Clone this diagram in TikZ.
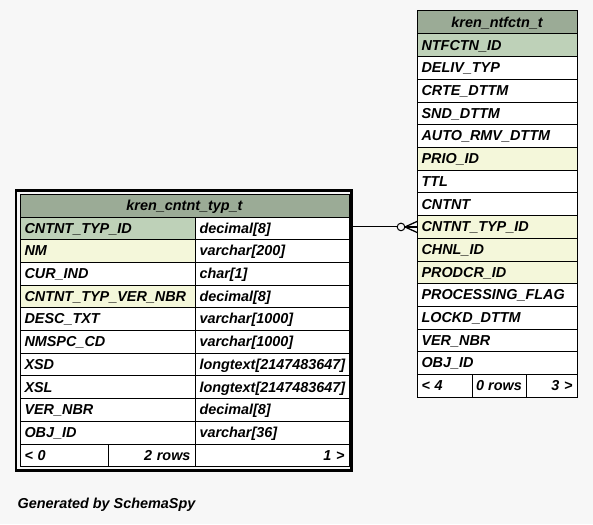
\documentclass[tikz,border=0pt]{standalone}
\usepackage{fontspec}
\setmainfont{Liberation Sans}
\usetikzlibrary{calc}
\definecolor{bg}{HTML}{F7F7F7}
\definecolor{headc}{HTML}{9BAB96}
\definecolor{pkc}{HTML}{BED1B8}
\definecolor{idxc}{HTML}{F4F7DA}
\newcommand\tabfont{\fontsize{14.4pt}{16pt}\selectfont\bfseries\itshape}
\tikzset{
  cellbox/.style={draw=black, line width=1pt, anchor=north west, outer sep=0pt,
    inner xsep=4.5pt, inner ysep=0pt, minimum height=22.7pt,
    text height=11.5pt, text depth=2pt, font=\tabfont},
  lcell/.style={cellbox, align=left, text width=#1pt-9pt, minimum width=#1pt},
  rcell/.style={cellbox, align=right, text width=#1pt-9pt, minimum width=#1pt},
  ccell/.style={cellbox, align=center, text width=#1pt-9pt, minimum width=#1pt},
  conn/.style={draw=black, line width=1pt},
}
\begin{document}
\begin{tikzpicture}[x=1pt,y=-1pt]
\fill[bg] (0,0) rectangle (593,524);
\useasboundingbox (0,0) rectangle (593,524);

% ---------- left table: kren_cntnt_typ_t ----------
\node[draw=black, line width=2.5pt, anchor=north west, outer sep=0pt,
      minimum width=335.5pt, minimum height=280pt, inner sep=0pt] (louter) at (16,190.5) {};
\node[ccell=329, fill=headc, minimum height=23pt] (lhead) at (20,194) {kren\_cntnt\_typ\_t};
\foreach \n/\t/\c [count=\i from 0] in {
  CNTNT\_TYP\_ID/decimal[8]/pkc,
  NM/varchar[200]/idxc,
  CUR\_IND/char[1]/white,
  CNTNT\_TYP\_VER\_NBR/decimal[8]/idxc,
  DESC\_TXT/varchar[1000]/white,
  NMSPC\_CD/varchar[1000]/white,
  XSD/longtext[2147483647]/white,
  XSL/longtext[2147483647]/white,
  VER\_NBR/decimal[8]/white,
  OBJ\_ID/varchar[36]/white}{
  \pgfmathsetmacro\yy{217+\i*22.7}
  \node[lcell=175, fill=\c] (l\i a) at (20,\yy) {\n};
  \node[lcell=154, fill=white] (l\i b) at (195,\yy) {\t};
}
\node[lcell=88, fill=white] (lf1) at (20,444) {< 0};
\node[rcell=87, fill=white] (lf2) at (108,444) {2 rows};
\node[rcell=154, fill=white] (lf3) at (195,444) {1 >};

% ---------- right table: kren_ntfctn_t ----------
\node[ccell=160, fill=headc, minimum height=23pt] (rhead) at (417,11) {kren\_ntfctn\_t};
\foreach \n/\c [count=\i from 0] in {
  NTFCTN\_ID/pkc,
  DELIV\_TYP/white,
  CRTE\_DTTM/white,
  SND\_DTTM/white,
  AUTO\_RMV\_DTTM/white,
  PRIO\_ID/idxc,
  TTL/white,
  CNTNT/white,
  CNTNT\_TYP\_ID/idxc,
  CHNL\_ID/idxc,
  PRODCR\_ID/idxc,
  PROCESSING\_FLAG/white,
  LOCKD\_DTTM/white,
  VER\_NBR/white,
  OBJ\_ID/white}{
  \pgfmathsetmacro\yy{34+\i*22.7}
  \node[lcell=160, fill=\c] (r\i a) at (417,\yy) {\n};
}
\node[lcell=55, fill=white] (rf1) at (417,374.5) {< 4};
\node[cellbox, minimum width=54pt, inner xsep=1pt, fill=white] (rf2) at (472,374.5) {0 rows};
\node[rcell=51, fill=white] (rf3) at (526,374.5) {3 >};

% ---------- relationship ----------
\coordinate (lconn) at (louter.east |- r8a.west);
\coordinate (foot) at ($(r8a.west)+(-12,0)$);
\node[circle, draw=black, line width=1pt, fill=bg, minimum size=7.6pt, inner sep=0pt]
  (circ) at ($(r8a.west)+(-16,0)$) {};
\draw[conn] (lconn) -- (circ.west);
\draw[conn, line width=1.3pt] (foot) -- ($(r8a.west)+(0,-5.5)$);
\draw[conn, line width=1.3pt] (foot) -- (r8a.west);
\draw[conn, line width=1.3pt] (foot) -- ($(r8a.west)+(0,5.5)$);

% ---------- footer ----------
\node[anchor=base west, inner sep=0pt, font=\tabfont] (gen) at (17.5,508.5) {Generated by SchemaSpy};
\end{tikzpicture}
\end{document}
